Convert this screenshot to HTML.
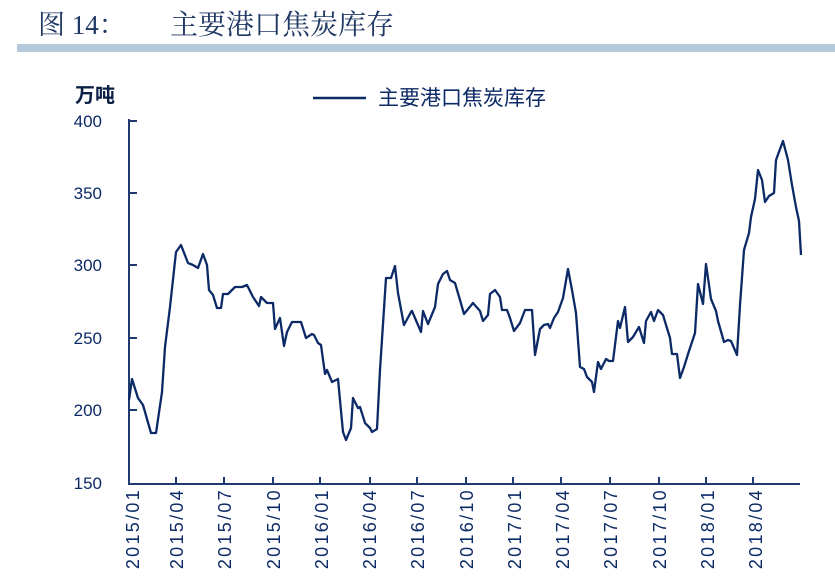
<!DOCTYPE html>
<html><head><meta charset="utf-8"><style>
html,body{margin:0;padding:0;background:#fff;}
svg{display:block;}
</style></head><body>
<svg width="835" height="576" xmlns="http://www.w3.org/2000/svg" font-family="'Liberation Sans','Noto Sans CJK SC',sans-serif">
<text x="38" y="34" font-size="27" fill="#1f3864" font-family="'Liberation Serif','Noto Serif CJK SC',serif">图 14：</text>
<text x="170" y="34" font-size="28" fill="#1f3864" font-family="'Liberation Serif','Noto Serif CJK SC',serif">主要港口焦炭库存</text>
<rect x="17" y="44" width="818" height="8" fill="#b4c8dc"/>
<text x="75" y="102" font-size="20" font-weight="bold" fill="#0c1f45">万吨</text>
<line x1="313" y1="98" x2="366" y2="98" stroke="#0c2a66" stroke-width="2.5"/>
<text x="378" y="105" font-size="21" fill="#0c2a66">主要港口焦炭库存</text>
<g font-size="17" fill="#0c2a66" text-anchor="end">
<text x="102" y="127">400</text><text x="102" y="199">350</text><text x="102" y="271">300</text>
<text x="102" y="344">250</text><text x="102" y="416">200</text><text x="102" y="489">150</text>
</g>
<g stroke="#1f3a6e" stroke-width="2" fill="none">
<path d="M129 119V484H800"/>
<path d="M129 121h8M129 193h8M129 265h8M129 338h8M129 410h8"/>
<path d="M176 484v-7M224 484v-7M273 484v-7M320 484v-7M370 484v-7M417 484v-7M466 484v-7M513 484v-7M561 484v-7M610 484v-7M659 484v-7M706 484v-7M753 484v-7"/>
</g>
<g font-size="18" fill="#0c2a66" text-anchor="end" letter-spacing="2.3">
<text transform="translate(139,488) rotate(-90)">2015/01</text>
<text transform="translate(183,488) rotate(-90)">2015/04</text>
<text transform="translate(231,488) rotate(-90)">2015/07</text>
<text transform="translate(280,488) rotate(-90)">2015/10</text>
<text transform="translate(328,488) rotate(-90)">2016/01</text>
<text transform="translate(376,488) rotate(-90)">2016/04</text>
<text transform="translate(424,488) rotate(-90)">2016/07</text>
<text transform="translate(473,488) rotate(-90)">2016/10</text>
<text transform="translate(521,488) rotate(-90)">2017/01</text>
<text transform="translate(569,488) rotate(-90)">2017/04</text>
<text transform="translate(617,488) rotate(-90)">2017/07</text>
<text transform="translate(666,488) rotate(-90)">2017/10</text>
<text transform="translate(714,488) rotate(-90)">2018/01</text>
<text transform="translate(762,488) rotate(-90)">2018/04</text>
</g>
<polyline fill="none" stroke="#0c2a66" stroke-width="2.3" stroke-linejoin="round" points="129,400 132,379 138,398 143,405 151,433 156,433 162,392 165,347 170,307 176,252 181,245 188,263 193,265 198,268 203,254 207,265 209,290 213,295 217,308 221,308 223,294 228,294 235,287 242,287 247,285 253,297 259,306 261,297 267,303 273,303 275,329 280,318 284,346 287,332 292,322 301,322 306,338 312,334 314,335 318,343 321,345 325,374 327,370 332,382 338,379 343,432 346,440 351,428 353,398 358,408 360,407 365,423 370,428 372,432 377,429 380,370 386,278 391,278 395,266 398,293 403,320 404,325 411,312 412,311 421,332 423,311 428,324 435,307 438,284 443,274 447,271 450,280 455,283 460,300 464,314 473,303 480,311 483,321 488,315 490,294 495,290 500,297 502,310 507,310 510,318 514,331 520,323 525,310 532,310 535,355 540,329 544,325 548,324 550,328 554,318 558,312 563,298 568,269 572,290 576,313 580,367 584,369 587,377 592,382 594,392 598,362 601,369 606,359 609,361 613,361 618,321 620,328 625,307 628,342 633,337 639,327 644,343 646,321 651,312 654,321 658,310 663,315 670,338 672,354 677,354 680,378 684,367 689,351 695,333 698,284 703,304 706,264 711,299 716,311 718,321 724,342 728,340 731,341 737,355 740,305 744,250 749,233 751,217 755,199 758,170 762,180 765,202 769,196 774,193 776,160 783,141 788,160 792,185 796,207 799,221 801,255"/>
</svg>
</body></html>
